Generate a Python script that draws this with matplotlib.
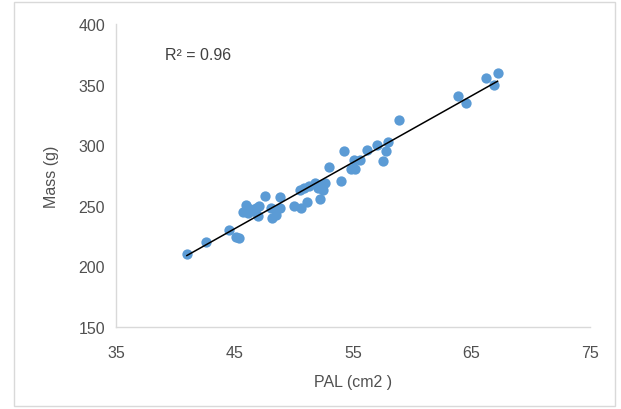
import matplotlib.pyplot as plt
from matplotlib.patches import Rectangle
import numpy as np

# PAL (cm2) vs mass (g)
pal = [40.97, 42.6, 44.5, 45.1, 45.4, 45.7, 46.0, 46.1, 46.6, 47.0, 47.1, 47.6,
       48.1, 48.2, 48.5, 48.8, 48.8, 50.0, 50.6, 50.5, 50.9, 51.1, 51.8, 52.0,
       52.2, 52.5, 52.6, 53.0, 54.0, 54.25, 54.8, 55.1, 55.2, 55.55, 56.15,
       57.0, 57.5, 57.8, 57.95, 58.9, 63.9, 64.5, 66.2, 66.9, 67.2,
       46.3, 46.8, 51.3, 52.4]
mass = [210, 220, 230, 224.6, 223.8, 245, 250.5, 244, 246, 241.7, 250, 258,
        248, 240, 242.5, 257, 248, 250, 248.6, 263, 265, 253, 268.8, 265,
        256, 263, 269, 282, 270.7, 295.6, 280, 288, 280, 288, 296,
        300.5, 287, 295.6, 302.5, 320.4, 341, 335, 355.5, 350, 359.4,
        247, 248, 266, 267]

x_ticks = [35, 45, 55, 65, 75]
y_ticks = [150, 200, 250, 300, 350, 400]

plt.rcParams['font.family'] = ['Liberation Sans', 'DejaVu Sans']

fig = plt.figure(figsize=(6.21, 4.10), dpi=100)
ax = fig.add_axes((0.187, 0.2, 0.763, 0.739))

ax.scatter(pal, mass, s=55, color='#5b9bd5', zorder=3, linewidths=0)

coef = np.polyfit(pal, mass, 1)
xs = np.array([min(pal), max(pal)])
ax.plot(xs, np.polyval(coef, xs), color='black', linewidth=1.1, zorder=4)

ax.set_xlim(35, 75)
ax.set_ylim(150, 400)
ax.set_xticks(x_ticks)
ax.set_yticks(y_ticks)
ax.tick_params(axis='y', length=0, labelsize=11.5, labelcolor='#505050', pad=8)
ax.tick_params(axis='x', length=0, labelsize=11.5, labelcolor='#505050', pad=13)
for s in ['top', 'right']:
    ax.spines[s].set_visible(False)
for s in ['left', 'bottom']:
    ax.spines[s].set_color('#d9d9d9')
    ax.spines[s].set_linewidth(1)

ax.set_xlabel('PAL (cm2 )', fontsize=11.5, color='#505050', labelpad=10)
ax.set_ylabel('Mass (g)', fontsize=11.5, color='#505050', labelpad=14)
ax.text(39.1, 375, 'R² = 0.96', fontsize=11.5, color='#404040', va='center')

fig.patches.append(Rectangle((0.022, 0.008), 0.968, 0.984, transform=fig.transFigure,
                             fill=False, edgecolor='#d9d9d9', linewidth=1))

fig.savefig('out.png', dpi=100)
